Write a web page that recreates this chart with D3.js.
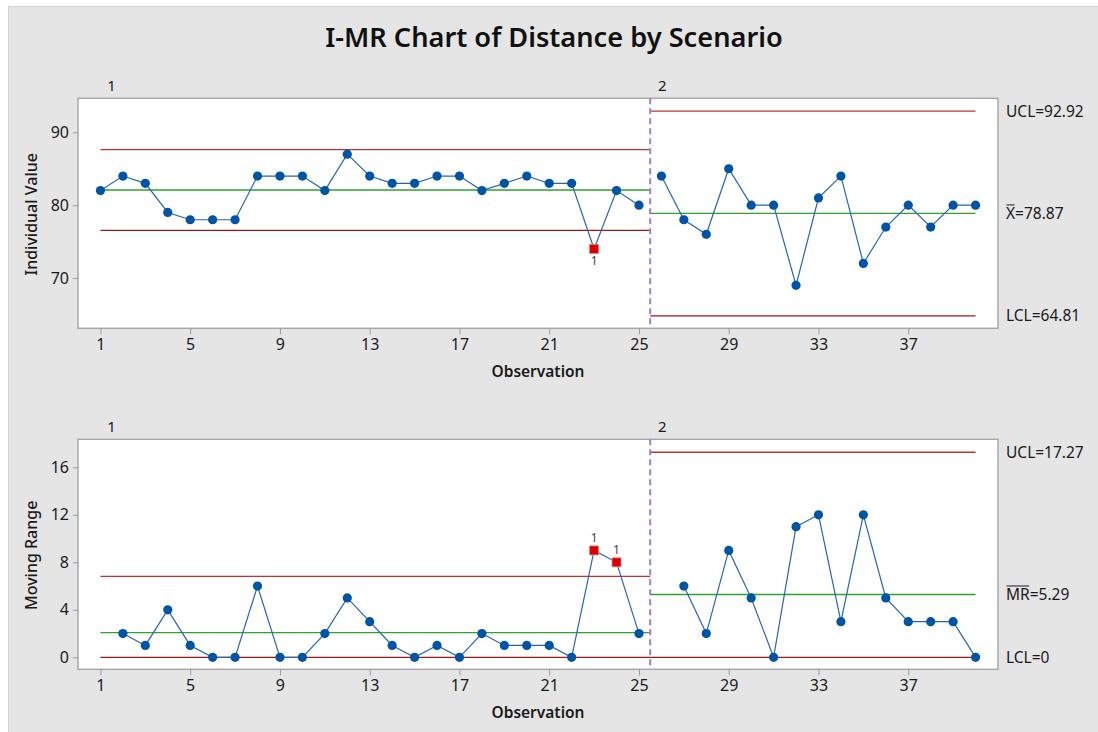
<!DOCTYPE html>
<html>
<head>
<meta charset="utf-8">
<script src="https://cdn.jsdelivr.net/npm/d3@7"></script>
<style>
  body { margin: 0; background: #fff; }
  text { font-family: "Segoe UI", "Noto Sans", "Open Sans", sans-serif; }
</style>
</head>
<body>
<div id="chart"></div>
<script>
// data
var stageNames = ["1", "2"];
var stage1Values = [82, 84, 83, 79, 78, 78, 78, 84, 84, 84, 82, 87, 84, 83, 83, 84, 84, 82, 83, 84, 83, 83, 74, 82, 80];
var stage2Values = [84, 78, 76, 85, 80, 80, 69, 81, 84, 72, 77, 80, 77, 80, 80];
var stage1MR = [null, 2, 1, 4, 1, 0, 0, 6, 0, 0, 2, 5, 3, 1, 0, 1, 0, 2, 1, 1, 1, 0, 9, 8, 2];
var stage2MR = [null, 6, 2, 9, 5, 0, 11, 12, 3, 12, 5, 3, 3, 3, 0];

var stageFrom = [1, 25.5];
var stageTo = [25.5, 40];

var iCenter = [82.08, 78.87];
var iUCL = [87.62, 92.92];
var iLCL = [76.54, 64.81];
var mrCenter = [2.08, 5.29];
var mrUCL = [6.81, 17.27];
var mrLCL = [0, 0];

var iFlagged = [23];
var mrFlagged = [23, 24];

var xTicks = [1, 5, 9, 13, 17, 21, 25, 29, 33, 37];
var iTicks = [70, 80, 90];
var mrTicks = [0, 4, 8, 12, 16];

var width = 1098, height = 732;

var svg = d3.select("#chart").append("svg")
    .attr("width", width)
    .attr("height", height);

svg.append("rect")
    .attr("x", 8.5).attr("y", 6.5)
    .attr("width", width).attr("height", height)
    .attr("fill", "#e5e5e5")
    .attr("stroke", "#d2d2d2");

svg.append("text")
    .attr("x", 554).attr("y", 47)
    .attr("text-anchor", "middle")
    .attr("font-size", 27.2)
    .attr("font-weight", 600)
    .attr("fill", "#111")
    .text("I-MR Chart of Distance by Scenario");

var x = d3.scaleLinear().domain([0, 41]).range([78, 998]);

function toPoints(vals, offset) {
  return vals.map(function(v, i) { return {obs: offset + i + 1, v: v}; })
    .filter(function(d) { return d.v !== null; });
}

function drawPanel(opt) {
  var y = d3.scaleLinear().domain(opt.domain).range([opt.bottom, opt.top]);
  var g = svg.append("g");

  g.append("rect")
      .attr("x", 78).attr("y", opt.top)
      .attr("width", 998 - 78).attr("height", opt.bottom - opt.top)
      .attr("fill", "#fff")
      .attr("stroke", "#a9a9a9")
      .attr("stroke-width", 1.5);

  // axes
  var yAxis = g.append("g")
      .attr("transform", "translate(78,0)")
      .call(d3.axisLeft(y).tickValues(opt.ticks).tickSize(5).tickPadding(4));
  var xAxis = g.append("g")
      .attr("transform", "translate(0," + opt.bottom + ")")
      .call(d3.axisBottom(x).tickValues(xTicks).tickSize(6).tickPadding(4));
  [yAxis, xAxis].forEach(function(a) {
    a.select(".domain").remove();
    a.selectAll(".tick line").attr("stroke", "#9a9a9a");
    a.selectAll(".tick text")
        .attr("font-size", 16)
        .attr("fill", "#1a1a1a")
        .style("font-family", "'Segoe UI', 'Noto Sans', sans-serif");
  });

  g.append("text")
      .attr("transform", "translate(37," + ((opt.top + opt.bottom) / 2 + 1) + ") rotate(-90)")
      .attr("text-anchor", "middle")
      .attr("font-size", 16)
      .attr("font-weight", 500)
      .attr("fill", "#1a1a1a")
      .text(opt.ylabel);

  g.append("text")
      .attr("x", 538).attr("y", opt.bottom + 49)
      .attr("text-anchor", "middle")
      .attr("font-size", 15.5)
      .attr("font-weight", 600)
      .attr("fill", "#1a1a1a")
      .text("Observation");

  // stage labels
  g.selectAll(".stage")
    .data(stageNames)
    .enter().append("text")
      .attr("x", function(d, i) { return x(stageFrom[i]) + (i === 0 ? 11 : 12); })
      .attr("y", opt.top - 7)
      .attr("text-anchor", "middle")
      .attr("font-size", 15)
      .attr("fill", "#1a1a1a")
      .text(function(d) { return d; });

  // control lines
  var limits = [
    {vals: opt.ucl, color: "#b83535", w: 1.3},
    {vals: opt.lcl, color: "#a01818", w: 1.3},
    {vals: opt.center, color: "#2ea22e", w: 1.3}
  ];
  limits.forEach(function(l) {
    g.selectAll(null)
      .data(l.vals)
      .enter().append("line")
        .attr("x1", function(d, i) { return x(stageFrom[i]); })
        .attr("x2", function(d, i) { return x(stageTo[i]); })
        .attr("y1", function(d) { return y(d); })
        .attr("y2", function(d) { return y(d); })
        .attr("stroke", l.color)
        .attr("stroke-width", l.w);
  });

  // stage divider
  g.append("line")
      .attr("x1", x(stageTo[0])).attr("x2", x(stageTo[0]))
      .attr("y1", opt.top).attr("y2", opt.bottom)
      .attr("stroke", "#9b7fd6")
      .attr("stroke-width", 2)
      .attr("stroke-dasharray", "6,4");

  var line = d3.line()
      .x(function(d) { return x(d.obs); })
      .y(function(d) { return y(d.v); });

  opt.series.forEach(function(pts) {
    g.append("path")
        .datum(pts)
        .attr("d", line)
        .attr("fill", "none")
        .attr("stroke", "#2566b4")
        .attr("stroke-width", 1.2);

    var normal = pts.filter(function(d) { return opt.flagged.indexOf(d.obs) < 0; });
    var bad = pts.filter(function(d) { return opt.flagged.indexOf(d.obs) >= 0; });

    g.selectAll(null)
      .data(normal)
      .enter().append("circle")
        .attr("cx", function(d) { return x(d.obs); })
        .attr("cy", function(d) { return y(d.v); })
        .attr("r", 4.6)
        .attr("fill", "#0054a6");

    g.selectAll(null)
      .data(bad)
      .enter().append("rect")
        .attr("x", function(d) { return x(d.obs) - 4.5; })
        .attr("y", function(d) { return y(d.v) - 4.5; })
        .attr("width", 9).attr("height", 9)
        .attr("fill", "#d90000")
        .attr("stroke", "#f08080")
        .attr("stroke-width", 0.8);

    g.selectAll(null)
      .data(bad)
      .enter().append("text")
        .attr("x", function(d) { return x(d.obs); })
        .attr("y", function(d) { return y(d.v) + opt.flagDy; })
        .attr("text-anchor", "middle")
        .attr("font-size", 12)
        .attr("fill", "#444")
        .text("1");
  });

  // right side labels for the last stage
  opt.labels.forEach(function(lab) {
    var yy = y(lab.value) + 5.5;
    var t = g.append("text")
        .attr("x", 1006).attr("y", yy)
        .attr("font-size", 15.5)
        .attr("fill", "#1a1a1a");
    if (lab.bar) {
      var sym = t.append("tspan").text(lab.bar);
      var wSym = sym.node().getComputedTextLength();
      t.append("tspan").text(lab.text);
      g.append("line")
          .attr("x1", 1006.5).attr("x2", 1006 + wSym - 0.5)
          .attr("y1", yy - 14).attr("y2", yy - 14)
          .attr("stroke", "#1a1a1a")
          .attr("stroke-width", 1);
    } else {
      t.text(lab.text);
    }
  });
}

drawPanel({
  top: 98.3, bottom: 328.3,
  domain: [63.1, 94.67],
  ticks: iTicks,
  ylabel: "Individual Value",
  ucl: iUCL, lcl: iLCL, center: iCenter,
  series: [toPoints(stage1Values, 0), toPoints(stage2Values, 25)],
  flagged: iFlagged,
  flagDy: 16,
  labels: [
    {value: iUCL[1], text: "UCL=" + iUCL[1].toFixed(2)},
    {value: iCenter[1], bar: "X", text: "=" + iCenter[1].toFixed(2)},
    {value: iLCL[1], text: "LCL=" + iLCL[1].toFixed(2)}
  ]
});

drawPanel({
  top: 439.3, bottom: 669.3,
  domain: [-1.01, 18.36],
  ticks: mrTicks,
  ylabel: "Moving Range",
  ucl: mrUCL, lcl: mrLCL, center: mrCenter,
  series: [toPoints(stage1MR, 0), toPoints(stage2MR, 25)],
  flagged: mrFlagged,
  flagDy: -8,
  labels: [
    {value: mrUCL[1], text: "UCL=" + mrUCL[1].toFixed(2)},
    {value: mrCenter[1], bar: "MR", text: "=" + mrCenter[1].toFixed(2)},
    {value: mrLCL[1], text: "LCL=" + mrLCL[1]}
  ]
});
</script>
</body>
</html>
